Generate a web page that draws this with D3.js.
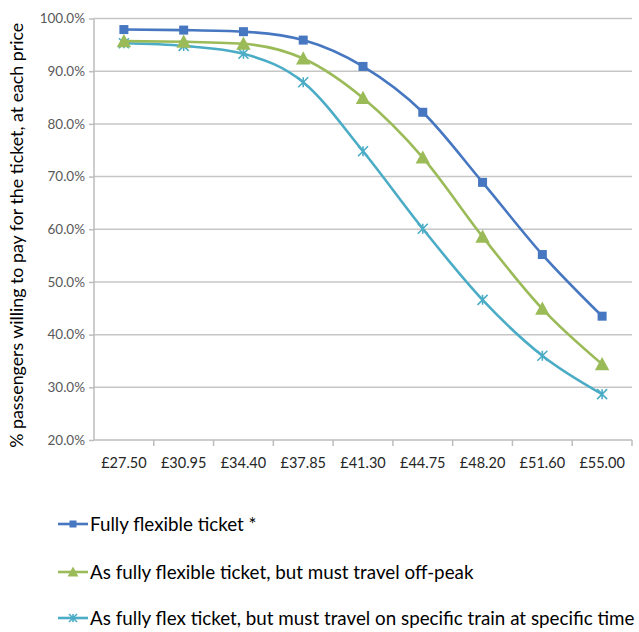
<!DOCTYPE html>
<html><head><meta charset="utf-8">
<script src="https://cdn.jsdelivr.net/npm/d3@7"></script>
<style>body{margin:0;background:#fff}svg{display:block}</style>
</head><body>
<script>
const categories = ["£27.50","£30.95","£34.40","£37.85","£41.30","£44.75","£48.20","£51.60","£55.00"];
const seriesNames = ["Fully flexible ticket *","As fully flexible ticket, but must travel off-peak","As fully flex ticket, but must travel on specific train at specific time"];
const fullyFlexible = [97.9,97.8,97.5,95.9,90.9,82.2,68.9,55.2,43.5];
const offPeak = [95.7,95.6,95.2,92.4,84.9,73.6,58.6,44.9,34.4];
const specificTrain = [95.3,94.8,93.3,87.9,74.8,60.1,46.6,36.0,28.7];
const yTicks = [20,30,40,50,60,70,80,90,100];
const colors = ["#4677c0","#9bbb59","#4bacc6"];
const markers = ["square","triangle","asterisk"];

(function(){
const W=639,H=632;
const svg=d3.select("body").append("svg").attr("width",W).attr("height",H);
const pL=94,pR=632,pT=18.5,pB=440;
const x=d3.scaleBand().domain(categories).range([pL,pR]);
const y=d3.scaleLinear().domain([20,100]).range([pB,pT]);

svg.append("g").selectAll("line").data(yTicks.filter(d=>d>20)).join("line")
 .attr("x1",pL).attr("x2",pR).attr("y1",d=>y(d)).attr("y2",d=>y(d))
 .attr("stroke","#c6c6c6").attr("stroke-width",1.5);

const ya=svg.append("g").attr("transform",`translate(${pL},0)`)
 .call(d3.axisLeft(y).tickValues(yTicks).tickFormat(d=>d.toFixed(1)+"%").tickSize(5));
ya.select(".domain").attr("stroke","#bdbdbd").attr("stroke-width",1.5).attr("d",`M0,${pT}V${pB}`);
ya.selectAll(".tick line").attr("stroke","#bdbdbd").attr("stroke-width",1.5);
ya.selectAll("text").attr("font-family","Lato, sans-serif").attr("font-size",13.5).attr("fill","#595959").attr("x",-9);

const xa=svg.append("g").attr("transform",`translate(0,${pB})`)
 .call(d3.axisBottom(x).tickSize(0));
xa.select(".domain").attr("stroke","#bdbdbd").attr("stroke-width",1.5).attr("d",`M${pL},0H${pR}`);
xa.selectAll("text").attr("font-family","Lato, sans-serif").attr("font-size",14.5).attr("fill","#262626").attr("dy","1.7em");
const bounds=categories.map(c=>x(c)).concat([pR]).slice(1);
xa.selectAll("line.sep").data(bounds).join("line").attr("class","sep")
 .attr("x1",d=>d).attr("x2",d=>d).attr("y1",0).attr("y2",6).attr("stroke","#bdbdbd").attr("stroke-width",1.5);

svg.append("text").attr("transform",`translate(23,${(pT+pB)/2+6}) rotate(-90)`)
 .attr("text-anchor","middle").attr("font-family","Lato, sans-serif").attr("font-size",17.8).attr("fill","#000")
 .text("% passengers willing to pay for the ticket, at each price");

function drawMarker(g,type,cx,cy,color,s){
  if(type==="square"){
    g.append("rect").attr("x",cx-s/2).attr("y",cy-s/2).attr("width",s).attr("height",s).attr("fill",color);
  } else if(type==="triangle"){
    g.append("path").attr("d",`M${cx},${cy-s*0.6}L${cx+s*0.6},${cy+s*0.5}L${cx-s*0.6},${cy+s*0.5}Z`).attr("fill",color);
  } else {
    const r=s/2;
    g.append("path").attr("d",`M${cx-r},${cy-r}L${cx+r},${cy+r}M${cx-r},${cy+r}L${cx+r},${cy-r}M${cx},${cy-r}V${cy+r}`)
     .attr("stroke",color).attr("stroke-width",1.6).attr("fill","none");
  }
}

const allSeries=[fullyFlexible,offPeak,specificTrain];
const line=d3.line().x((d,i)=>x(categories[i])+x.bandwidth()/2).y(d=>y(d)).curve(d3.curveMonotoneX);
[2,1,0].forEach(k=>{
  const vals=allSeries[k];
  const g=svg.append("g");
  g.append("path").attr("d",line(vals)).attr("fill","none").attr("stroke",colors[k]).attr("stroke-width",2.6);
  vals.forEach((v,i)=>drawMarker(g,markers[k],x(categories[i])+x.bandwidth()/2,y(v),colors[k],k===0?9:(k===1?12:10)));
});

const legY=[524,572,618];
seriesNames.forEach((n,k)=>{
  const g=svg.append("g");
  g.append("line").attr("x1",58).attr("x2",88).attr("y1",legY[k]).attr("y2",legY[k]).attr("stroke",colors[k]).attr("stroke-width",2.6);
  drawMarker(g,markers[k],73,legY[k],colors[k],k===0?7:(k===1?9:8));
  g.append("text").attr("x",90).attr("y",legY[k]).attr("dy","0.36em").attr("font-family","Lato, sans-serif").attr("font-size",18.8).attr("fill","#000").text(n);
});
})();
</script>
</body></html>
